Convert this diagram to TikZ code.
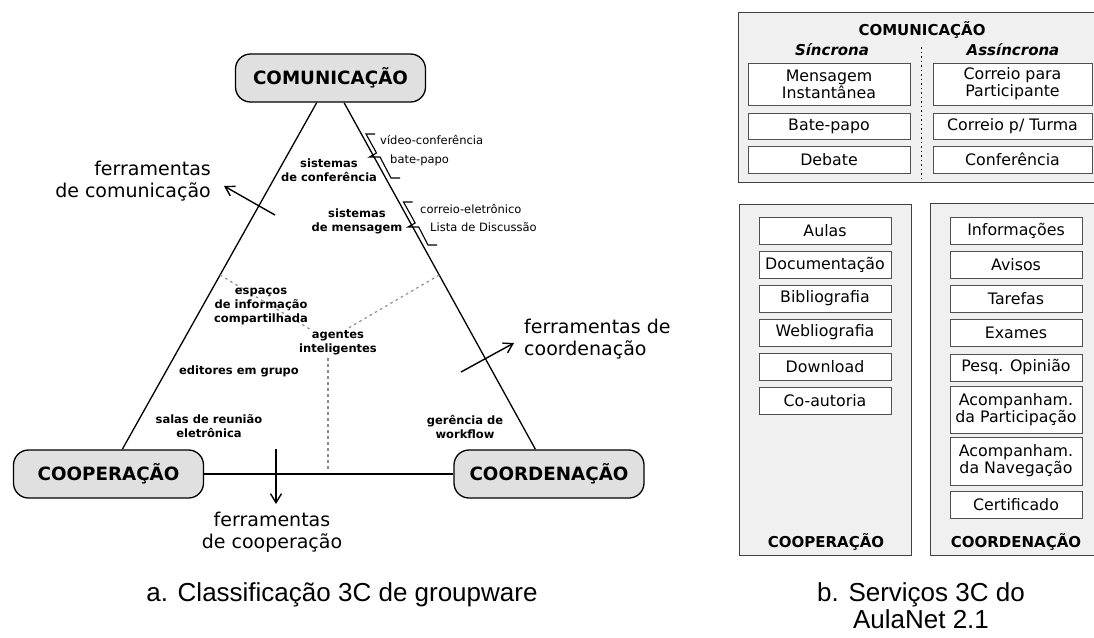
\documentclass[tikz,border=0pt]{standalone}
\usepackage{fontspec}
\setmainfont{DejaVu Sans}
\newfontfamily\capfont{Liberation Sans}
\usetikzlibrary{arrows.meta,calc}
\definecolor{nodegray}{HTML}{E0E0E0}
\definecolor{panelgray}{HTML}{F0F0F0}
\definecolor{dashgray}{HTML}{8C8C8C}
\definecolor{panelborder}{HTML}{404040}
\definecolor{boxborder}{HTML}{505050}
\begin{document}
\begin{tikzpicture}[x=1pt,y=-1pt,
  tri/.style={draw=black, line width=1.3pt, fill=nodegray, rounded corners=15pt, minimum width=190pt, minimum height=48pt, inner sep=0pt, font=\bfseries\fontsize{18.3}{20}\selectfont},
  edge/.style={line width=1.3pt},
  dashline/.style={draw=dashgray, line width=1.2pt, dash pattern=on 2.5pt off 3.5pt},
  arr/.style={line width=1.4pt, -{Straight Barb[length=9pt,width=11pt]}},
  big/.style={font=\fontsize{19}{22}\selectfont, inner sep=0pt},
  sm/.style={font=\bfseries\fontsize{11.5}{14}\selectfont, align=center, inner sep=0pt},
  note/.style={font=\fontsize{11.5}{13}\selectfont, anchor=west, inner sep=0pt},
  bracestroke/.style={line width=1.1pt},
  panel/.style={draw=panelborder, line width=1pt, fill=panelgray},
  svc/.style={draw=boxborder, line width=0.9pt, fill=white, inner sep=0pt, align=center, font=\fontsize{15.8}{17}\selectfont},
  ptitle/.style={font=\bfseries\fontsize{15}{17}\selectfont, inner sep=0pt},
  caption/.style={font=\capfont\fontsize{26}{27}\selectfont, align=center, inner sep=0pt},
]
\useasboundingbox (0,0) rectangle (1094,637);

% ---------- triangle ----------
\node[tri] (com) at (330.5,78) {COMUNICAÇÃO};
\node[tri] (coop) at (108.5,474) {COOPERAÇÃO};
\node[tri] (coord) at (549,474) {COORDENAÇÃO};
\draw[edge] (com) -- (coop);
\draw[edge] (com) -- (coord);
\draw[edge] (coop) -- (coord);

% dashed partition
\coordinate (dl) at ($(com.center)!0.4975!(coop.center)$);
\coordinate (dr) at ($(com.center)!0.4975!(coord.center)$);
\coordinate (ctr) at (328,340);
\coordinate (db) at (328,470);
\draw[dashline] (dl) -- (ctr);
\draw[dashline] (dr) -- (ctr);
\draw[dashline] (ctr) -- (db);

% braces
\draw[bracestroke] (375,134) -- (366,134) -- (376.5,153) -- (369.5,157) -- (380,157) -- (391,178) -- (400,178);
\draw[bracestroke] (412.5,202) -- (403.5,202) -- (415.2,223) -- (408,227) -- (418.7,227) -- (428,245) -- (437,245);

\node[note] (vc) at (380,140) {vídeo-conferência};
\node[note] (bp) at (390,160) {bate-papo};
\node[note] (ce) at (420,209) {correio-eletrônico};
\node[note] (ld) at (430,227) {Lista de Discussão};

% inner labels
\node[sm] (sconf) at (329,170) {sistemas\\de conferência};
\node[sm] (smens) at (357,221) {sistemas\\de mensagem};
\node[sm] (esp) at (261,306) {espaços\\de informação\\compartilhada};
\node[sm, fill=white, inner sep=1.5pt] (ag) at (338,342.5) {agentes\\inteligentes};
\node[sm] (ed) at (239,371) {editores em grupo};
\node[sm] (salas) at (209,426.5) {salas de reunião\\eletrônica};
\node[sm] (wf) at (465,426.5) {gerência de\\workflow};

% arrows
\coordinate (a1s) at (275,215); \coordinate (a1e) at (224,186);
\coordinate (a2s) at (461,372); \coordinate (a2e) at (514,343);
\coordinate (a3s) at (276,449); \coordinate (a3e) at (276,504);
\draw[arr] (a1s) -- (a1e);
\draw[arr] (a2s) -- (a2e);
\draw[arr] (a3s) -- (a3e);

\node[big, anchor=east, align=right] (fcom) at (211,181) {ferramentas\\de comunicação};
\node[big, anchor=west, align=left] (fcoord) at (524,339) {ferramentas de\\coordenação};
\node[big, align=center] (fcoop) at (272,532) {ferramentas\\de cooperação};

\node[caption] (capa) at (342,595) {a. Classificação 3C de groupware};

% ---------- right: services ----------
\draw[panel] (738,12) rectangle (1100,182);
\node[ptitle] (pcom) at (922,30) {COMUNICAÇÃO};
\node[ptitle, font=\bfseries\itshape\fontsize{15}{17}\selectfont] (sinc) at (832,50) {Síncrona};
\node[ptitle, font=\bfseries\itshape\fontsize{15}{17}\selectfont] (assinc) at (1013,50) {Assíncrona};
\draw[line width=1pt, dash pattern=on 1.5pt off 3pt] (921,47) -- (921,182);

\node[svc, minimum width=162pt, minimum height=42pt] (s1) at (829,84) {Mensagem\\Instantânea};
\node[svc, minimum width=162pt, minimum height=26pt] (s2) at (829,126) {Bate-papo};
\node[svc, minimum width=162pt, minimum height=27pt] (s3) at (829,159.5) {Debate};
\node[svc, minimum width=159pt, minimum height=42pt] (a1) at (1012.5,84) {Correio para\\Participante};
\node[svc, minimum width=159pt, minimum height=26pt] (a2) at (1012.5,126) {Correio p/ Turma};
\node[svc, minimum width=159pt, minimum height=27pt] (a3) at (1012.5,159.5) {Conferência};

\draw[panel] (739,204) rectangle (911,555);
\foreach \t/\yy [count=\i] in {Aulas/230.5, Documentação/264.5, Bibliografia/298.5, Webliografia/332.5, Download/366.5, Co-autoria/400.5}
  \node[svc, minimum width=132pt, minimum height=27pt] (cp\i) at (825,\yy) {\t};
\node[ptitle] (pcoop) at (826,542) {COOPERAÇÃO};

\draw[panel] (930,203) rectangle (1100,555);
\foreach \t/\yy [count=\i] in {Informações/230.5, Avisos/264.5, Tarefas/298.5, Exames/332.5, Pesq. Opinião/367.5}
  \node[svc, minimum width=132pt, minimum height=27pt] (cd\i) at (1016,\yy) {\t};
\node[svc, minimum width=132pt, minimum height=47pt] (cd6) at (1016,409.5) {Acompanham.\\da Participação};
\node[svc, minimum width=132pt, minimum height=48pt] (cd7) at (1016,461) {Acompanham.\\da Navegação};
\node[svc, minimum width=132pt, minimum height=27pt] (cd8) at (1016,504.5) {Certificado};
\node[ptitle] (pcoord) at (1016,542) {COORDENAÇÃO};

\node[caption] (capb) at (921,606) {b. Serviços 3C do\\AulaNet 2.1};
\end{tikzpicture}
\end{document}
